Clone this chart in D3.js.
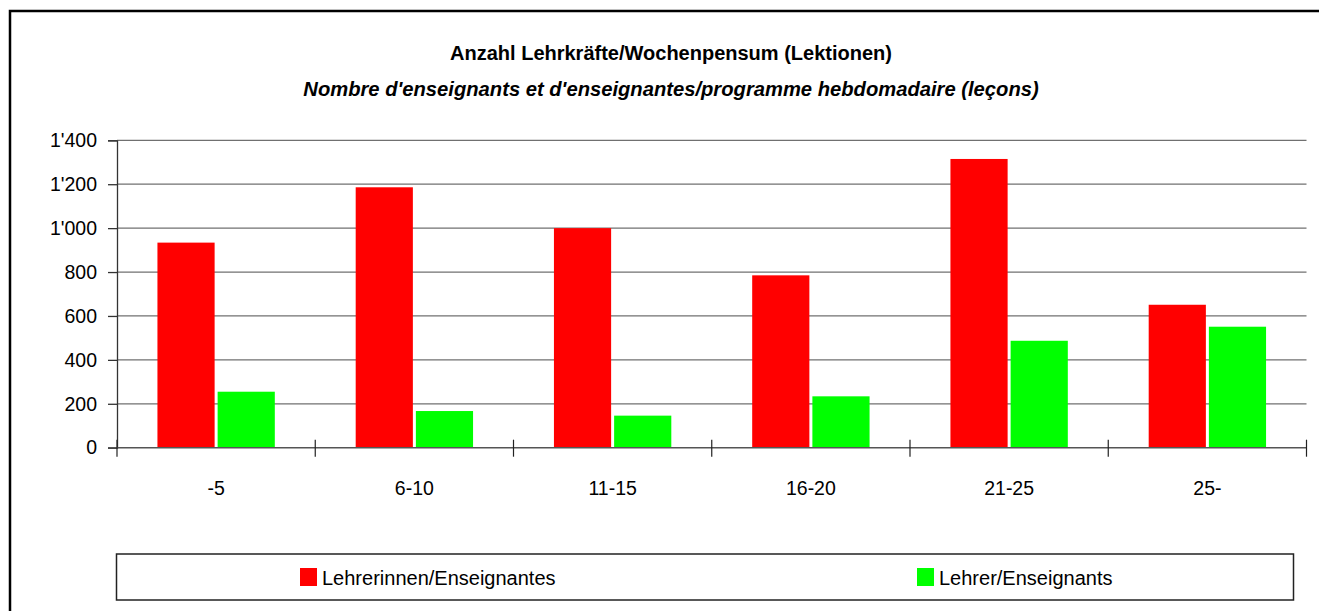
<!DOCTYPE html>
<html>
<head>
<meta charset="utf-8">
<script src="https://cdn.jsdelivr.net/npm/d3@7"></script>
<style>
  body { margin: 0; background: #fff; }
  svg { display: block; font-family: "Liberation Sans", Arial, sans-serif; }
</style>
</head>
<body>
<svg id="chart" width="1319" height="611"></svg>
<script>
// categories (Lektionen / leçons)
var categories = ["-5", "6-10", "11-15", "16-20", "21-25", "25-"];
var seriesNames = ["Lehrerinnen/Enseignantes", "Lehrer/Enseignants"];
var women = [934, 1186, 1000, 785, 1315, 651];
var men = [255, 167, 146, 234, 487, 551];
var yTicks = [0, 200, 400, 600, 800, 1000, 1200, 1400];
var colors = ["#ff0000", "#00ff00"];

var svg = d3.select("#chart");

// outer frame, runs off the right and bottom of the window
svg.append("rect")
  .attr("x", 10).attr("y", 11)
  .attr("width", 1340).attr("height", 640)
  .attr("fill", "none").attr("stroke", "#000").attr("stroke-width", 2.5);

svg.append("text")
  .attr("x", 671).attr("y", 60)
  .attr("text-anchor", "middle")
  .style("font-size", "20px").style("font-weight", "bold")
  .text("Anzahl Lehrkräfte/Wochenpensum (Lektionen)");

svg.append("text")
  .attr("x", 671).attr("y", 96)
  .attr("text-anchor", "middle")
  .style("font-size", "20.2px").style("font-weight", "bold").style("font-style", "italic")
  .text("Nombre d'enseignants et d'enseignantes/programme hebdomadaire (leçons)");

var plotLeft = 117, plotRight = 1306.5, plotTop = 140.3, plotBottom = 447.7;

var y = d3.scaleLinear().domain([0, 1400]).range([plotBottom, plotTop]);

var x0 = d3.scaleBand()
  .domain(categories)
  .range([plotLeft, plotRight])
  .paddingInner(0.408)
  .paddingOuter(0.204);

var x1 = d3.scaleBand()
  .domain(seriesNames)
  .range([0, x0.bandwidth()])
  .paddingInner(0.05);

// gridlines
svg.append("g").selectAll("line")
  .data(yTicks.filter(function(d) { return d > 0; }))
  .enter().append("line")
  .attr("x1", plotLeft).attr("x2", plotRight)
  .attr("y1", function(d) { return y(d); })
  .attr("y2", function(d) { return y(d); })
  .attr("stroke", "#707070").attr("stroke-width", 1.3);

// y axis
var yAxis = d3.axisLeft(y)
  .tickValues(yTicks)
  .tickSize(9)
  .tickPadding(11)
  .tickFormat(function(d) { return d3.format(",")(d).replace(",", "'"); });

var gy = svg.append("g")
  .attr("transform", "translate(" + plotLeft + ",0)")
  .call(yAxis);
gy.select(".domain").attr("stroke", "#333").attr("stroke-width", 1.3);
gy.selectAll(".tick line").attr("stroke", "#333").attr("stroke-width", 1.3);
gy.selectAll("text")
  .style("font-size", "19.5px")
  .style("font-family", "\"Liberation Sans\", Arial, sans-serif")
  .attr("fill", "#000");

// bars
var rows = categories.map(function(c, i) {
  return { cat: c, values: [women[i], men[i]] };
});

var groups = svg.append("g").selectAll("g")
  .data(rows)
  .enter().append("g")
  .attr("transform", function(d) { return "translate(" + x0(d.cat) + ",0)"; });

groups.selectAll("rect")
  .data(function(d) {
    return d.values.map(function(v, j) { return { key: seriesNames[j], value: v, idx: j }; });
  })
  .enter().append("rect")
  .attr("x", function(d) { return x1(d.key); })
  .attr("y", function(d) { return y(d.value); })
  .attr("width", x1.bandwidth())
  .attr("height", function(d) { return plotBottom - y(d.value); })
  .attr("fill", function(d) { return colors[d.idx]; });

// x axis: baseline + crossing ticks at band edges
var step = x0.step();
var edges = d3.range(categories.length + 1).map(function(i) { return plotLeft + i * step; });

svg.append("line")
  .attr("x1", plotLeft - 9).attr("x2", plotRight)
  .attr("y1", plotBottom).attr("y2", plotBottom)
  .attr("stroke", "#555").attr("stroke-width", 1.5);

svg.append("g").selectAll("line")
  .data(edges)
  .enter().append("line")
  .attr("x1", function(d) { return d; }).attr("x2", function(d) { return d; })
  .attr("y1", plotBottom - 8).attr("y2", plotBottom + 9)
  .attr("stroke", "#222").attr("stroke-width", 1.2);

svg.append("g").selectAll("text")
  .data(categories)
  .enter().append("text")
  .attr("x", function(d) { return x0(d) + x0.bandwidth() / 2; })
  .attr("y", 495)
  .attr("text-anchor", "middle")
  .style("font-size", "19.5px")
  .text(function(d) { return d; });

// legend
svg.append("rect")
  .attr("x", 116.5).attr("y", 554)
  .attr("width", 1177).attr("height", 46)
  .attr("fill", "none").attr("stroke", "#222").attr("stroke-width", 1.5);

var legendX = [300, 917];
var leg = svg.append("g").selectAll("g")
  .data(seriesNames)
  .enter().append("g")
  .attr("transform", function(d, i) { return "translate(" + legendX[i] + ",568)"; });

leg.append("rect")
  .attr("width", 17).attr("height", 18)
  .attr("fill", function(d, i) { return colors[i]; });

leg.append("text")
  .attr("x", 22).attr("y", 17)
  .style("font-size", "20px")
  .text(function(d) { return d; });
</script>
</body>
</html>
